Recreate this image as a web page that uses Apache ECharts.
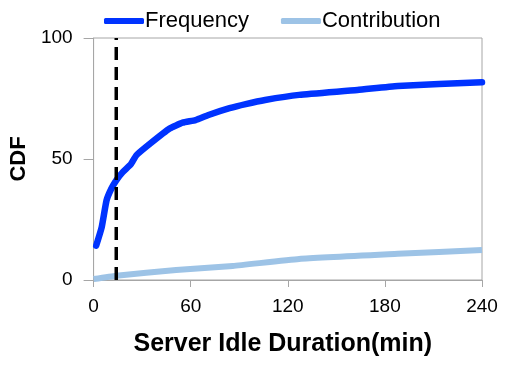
<!DOCTYPE html>
<html>
<head>
<meta charset="utf-8">
<script src="https://cdn.jsdelivr.net/npm/echarts@6/dist/echarts.min.js"></script>
<style>
html,body{margin:0;padding:0;background:#fff;}
#c{width:506px;height:365px;}
</style>
</head>
<body>
<div id="c"></div>
<script>
var seriesNames = ['Frequency', 'Contribution'];
var xTicks = [0, 60, 120, 180, 240];
var yTicks = [0, 50, 100];
var freqMinutes = [1.6, 5, 8, 11, 14, 18, 23, 26.5, 35, 47, 55, 63, 71, 84, 94, 106, 127, 163, 188, 240];
var freqValues  = [14.2, 21.8, 32.9, 37.8, 41.2, 44.6, 47.8, 51.6, 56.4, 62.6, 65, 66.1, 68.2, 71, 72.7, 74.4, 76.5, 78.5, 80.2, 81.7];
var contribMinutes = [0, 14, 51, 86, 127, 188, 240];
var contribValues  = [0.4, 1.8, 4.1, 5.8, 8.7, 10.8, 12.4];
var thresholdMinute = 14;
var thresholdSpan = [0, 100];

function pairs(xs, ys){ return xs.map(function(x,i){ return [x, ys[i]]; }); }

var chart = echarts.init(document.getElementById('c'), null, {renderer:'canvas'});
var font = 'Liberation Sans, Arial, sans-serif';
chart.setOption({
  animation: false,
  backgroundColor: '#fff',
  grid: {left: 90, right: 24, top: 38, bottom: 85, show: true, borderColor: '#a6a6a6', borderWidth: 1},
  legend: {
    data: seriesNames,
    left: 99, top: 5,
    itemWidth: 40, itemHeight: 6, itemGap: 32,
    icon: 'roundRect',
    textStyle: {fontFamily: font, fontSize: 22, color: '#000', padding: [0,0,0,-4]}
  },
  xAxis: {
    type: 'value', min: xTicks[0], max: xTicks[xTicks.length-1], interval: 60,
    name: 'Server Idle Duration(min)', nameLocation: 'middle', nameGap: 52,
    nameTextStyle: {fontFamily: font, fontSize: 25, fontWeight: 'bold', color: '#000', padding:[0,10,0,0]},
    axisLine: {show: true, lineStyle: {color: '#a6a6a6', width: 1}},
    axisTick: {show: true, length: 7, lineStyle: {color: '#a6a6a6'}},
    axisLabel: {fontFamily: font, fontSize: 19, color: '#000', margin: 17},
    splitLine: {show: false}
  },
  yAxis: {
    type: 'value', min: yTicks[0], max: yTicks[yTicks.length-1], interval: 50,
    name: 'CDF', nameLocation: 'middle', nameGap: 54, nameRotate: 90,
    nameTextStyle: {fontFamily: font, fontSize: 22, fontWeight: 'bold', color: '#000'},
    axisLine: {show: true, lineStyle: {color: '#a6a6a6', width: 1}},
    axisTick: {show: true, length: 10, lineStyle: {color: '#a6a6a6'}},
    axisLabel: {fontFamily: font, fontSize: 19, color: '#000', margin: 21},
    splitLine: {show: false}
  },
  series: [
    {
      name: seriesNames[0], type: 'line', smooth: 0.15, showSymbol: false,
      data: pairs(freqMinutes, freqValues), z: 3,
      itemStyle: {color: '#0033ff'},
      lineStyle: {color: '#0033ff', width: 6.5, cap: 'round', join: 'round'}
    },
    {
      name: seriesNames[1], type: 'line', smooth: 0.15, showSymbol: false,
      data: pairs(contribMinutes, contribValues), z: 2,
      itemStyle: {color: '#9dc3e6'},
      lineStyle: {color: '#9dc3e6', width: 6, cap: 'butt', join: 'round'}
    },
    {
      name: 'threshold', type: 'line', showSymbol: false, silent: true, z: 4,
      data: [[thresholdMinute, thresholdSpan[0]], [thresholdMinute, thresholdSpan[1]]],
      lineStyle: {color: '#000', width: 3.5, type: [13, 7]}
    }
  ]
});
</script>
</body>
</html>
